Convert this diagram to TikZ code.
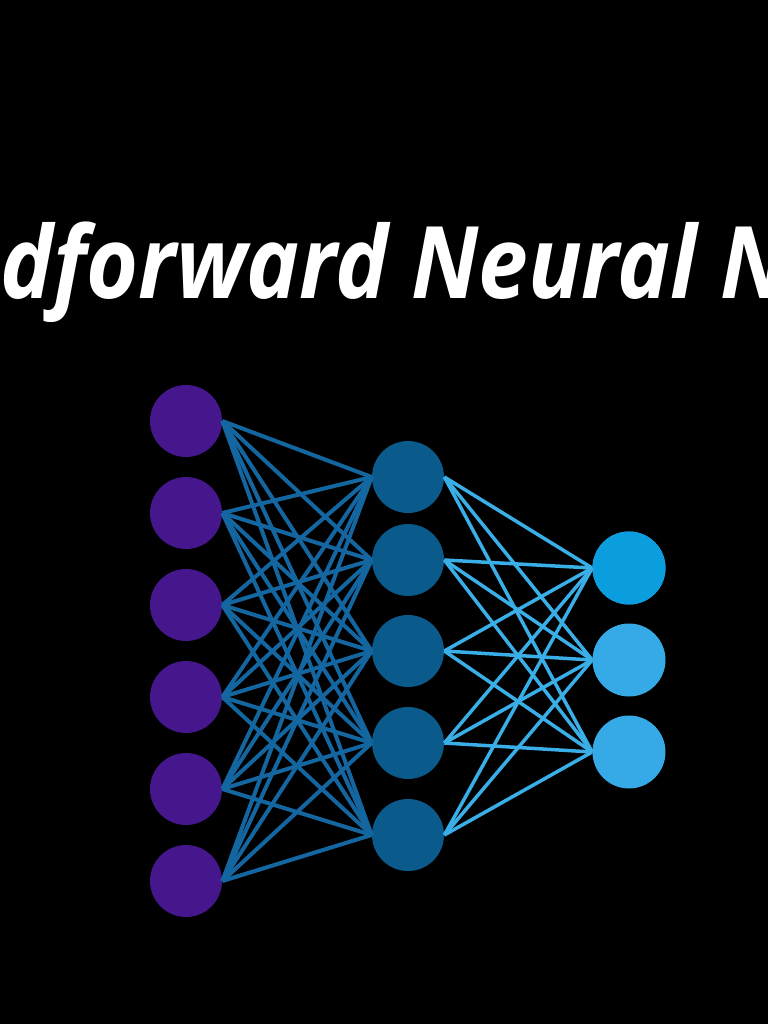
\documentclass[tikz,border=0pt]{standalone}
\usepackage{fontspec}
\newfontfamily\titlefont{Open Sans}
\definecolor{inpurple}{HTML}{45168C}
\definecolor{hidblue}{HTML}{0A5A8C}
\definecolor{outblue}{HTML}{0A9EDF}
\definecolor{outlight}{HTML}{36AAE6}
\definecolor{edgedark}{HTML}{1466A0}
\definecolor{edgelight}{HTML}{3AAEE6}
\tikzset{
  inputneuron/.style={
    shape = circle,
    fill = inpurple,
    inner sep = 0,
    minimum size = 1.44cm
  },
  hiddenneuron/.style={
    shape = circle,
    fill = hidblue,
    inner sep = 0,
    minimum size = 1.44cm
  },
  outputneuron/.style={
    shape = circle,
    fill = outlight,
    inner sep = 0,
    minimum size = 1.46cm
  },
  edgeone/.style={
    draw = edgedark,
    line width = 0.08cm
  },
  edgetwo/.style={
    draw = edgelight,
    line width = 0.07cm
  },
  titletext/.style={
    text = white,
    inner sep = 0,
    font = \titlefont\bfseries\itshape\fontsize{57}{60}\selectfont,
    xscale = 0.89
  }
}
\begin{document}
\begin{tikzpicture}[x=0.02cm,y=-0.02cm]
            \useasboundingbox (0,0) rectangle (768,1024);
            \fill[black] (0,0) rectangle (768,1024);
            \clip (0,0) rectangle (768,1024);
            \node[titletext,anchor=base west] (title) at (0,298) {dforward Neural N};
            \foreach \y [count=\i] in {421,513,605,697,789,881}{
                    \node[inputneuron] (in\i) at (186,\y) {};
                }
            \foreach \y [count=\j] in {477,560,651,743,835}{
                    \node[hiddenneuron] (hid\j) at (408,\y) {};
                }
            \foreach \y [count=\k] in {568,660,752}{
                    \node[outputneuron] (out\k) at (629,\y) {};
                }
            \node[outputneuron, fill=outblue] at (out1) {};
            \foreach \i in {1,...,6}{
                \foreach \j in {1,...,5}{
                    \draw[edgeone] (in\i.east) -- (hid\j.west);
                }
            }
            \foreach \j in {1,...,5}{
                \foreach \k in {1,2,3}{
                    \draw[edgetwo] (hid\j.east) -- (out\k.west);
                }
            }
        \end{tikzpicture}
\end{document}
